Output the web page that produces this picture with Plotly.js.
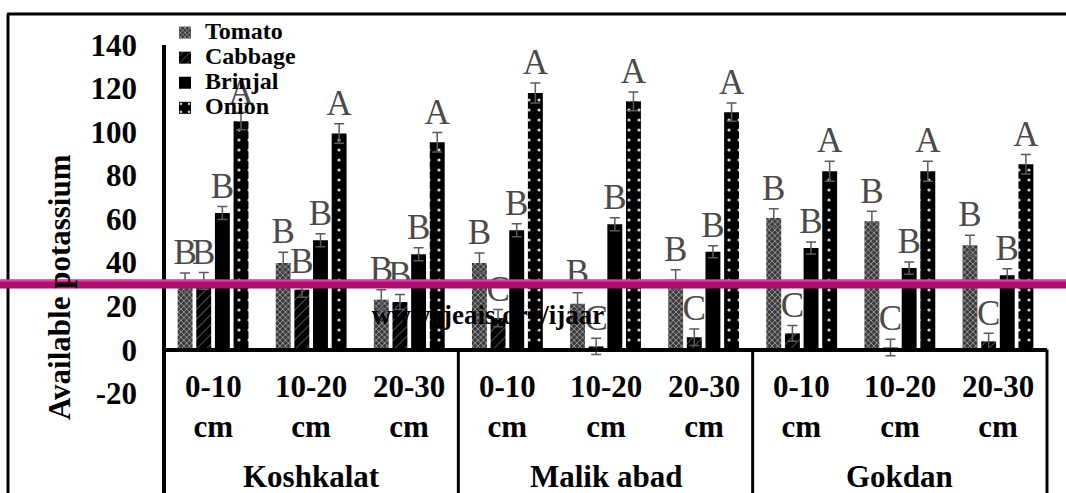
<!DOCTYPE html>
<html>
<head>
<meta charset="utf-8">
<script src="https://cdn.plot.ly/plotly-3.0.1.min.js"></script>
<style>html,body{margin:0;padding:0;background:#fff;}#chart{width:1066px;height:493px;}</style>
</head>
<body>
<div id="chart"></div>
<script>
// ---- data ----
const sites = ['Koshkalat', 'Malik abad', 'Gokdan'];
const depths = ['0-10<br>cm', '10-20<br>cm', '20-30<br>cm'];
const crops = ['Tomato', 'Cabbage', 'Brinjal', 'Onion'];

const tomato     = [30.7, 39.8, 23.0, 39.8, 21.1, 32.1, 60.5, 59.0, 48.0];
const tomatoErr  = [4.5, 5.0, 4.5, 4.6, 5.0, 4.6, 4.3, 4.6, 4.6];
const cabbage    = [31.6, 27.6, 21.9, 14.5, 1.5, 5.7, 7.5, 1.0, 3.8];
const cabbageErr = [3.8, 3.5, 3.5, 4.0, 3.7, 3.8, 3.6, 3.8, 3.7];
const brinjal    = [62.8, 50.3, 43.8, 54.9, 57.6, 45.0, 46.7, 37.5, 34.2];
const brinjalErr = [3.0, 3.0, 3.0, 3.0, 3.0, 2.8, 2.8, 2.8, 3.0];
const onion      = [105.0, 99.3, 95.3, 117.9, 114.1, 109.1, 82.0, 82.0, 85.2];
const onionErr   = [4.0, 4.5, 4.5, 4.6, 4.3, 4.2, 4.6, 4.6, 4.5];

const tomatoSig  = ['B','B','B','B','B','B','B','B','B'];
const cabbageSig = ['B','B','B','C','C','C','C','C','C'];
const brinjalSig = ['B','B','B','B','B','B','B','B','B'];
const onionSig   = ['A','A','A','A','A','A','A','A','A'];

const yTicks = [-20, 0, 20, 40, 60, 80, 100, 120, 140];
const yTickLabels = ['-20', '0', '20', '40', '60', '80', '100', '120', '140'];
const yTitle = 'Available potassium';
const watermark = 'www.ijeais.org/ijaar';

// ---- build ----
const catKeys = [], catDepth = [], catSite = [];
sites.forEach(s => depths.forEach(d => { catKeys.push(s + ' | ' + d); catDepth.push(d); catSite.push(s); }));

const values = [tomato, cabbage, brinjal, onion];
const errs = [tomatoErr, cabbageErr, brinjalErr, onionErr];
const sigs = [tomatoSig, cabbageSig, brinjalSig, onionSig];

const serif = 'Liberation Serif, Times New Roman, serif';
const markers = [
  {color: '#3a3a3a', pattern: {shape: 'x', bgcolor: '#3a3a3a', fgcolor: '#c4c4c4', size: 4, solidity: 0.3}},
  {color: '#000000', pattern: {shape: '/', bgcolor: '#000000', fgcolor: '#8a8a8a', size: 7, solidity: 0.12}},
  {color: '#000000'},
  {color: '#000000', pattern: {shape: '.', bgcolor: '#000000', fgcolor: '#d6d6d6', size: 10, solidity: 0.08}}
];

const traces = [];
crops.forEach((c, i) => {
  traces.push({
    type: 'bar', name: "<span style='font-size:24px'>" + c + "</span>",
    x: catKeys, y: values[i], offsetgroup: c,
    marker: Object.assign({line: {width: 0}}, markers[i]),
    error_y: {type: 'data', array: errs[i], visible: true, color: '#5a5a5a', thickness: 1.5, width: 5},
    hoverinfo: 'y'
  });
});
crops.forEach((c, i) => {
  traces.push({
    type: 'scatter', mode: 'text', showlegend: false, offsetgroup: c,
    x: catKeys, y: values[i].map((v, k) => v + errs[i][k]),
    text: sigs[i], textposition: 'top center', cliponaxis: false,
    textfont: {family: serif, size: 35, color: '#4a4a4a'},
    hoverinfo: 'skip'
  });
});

const W = 1066, H = 493, ml = 164, mr = 19, mt = 15, mb = 0;
const pw = W - ml - mr, ph = H - mt - mb;
const pxPerUnit = 2.179, zeroPx = 349.5;
const yTop = 140 + (45 - mt) / pxPerUnit;
const yBot = -(H - mb - zeroPx) / pxPerUnit;
const px2x = p => (p - ml) / pw;
const px2y = p => (H - mb - p) / ph;

const boldFont = (size) => ({family: serif, size: size, weight: 700, color: '#000'});

const annotations = [{
  text: yTitle, textangle: -90, xref: 'paper', yref: 'paper',
  x: px2x(60), y: px2y(287), xanchor: 'center', yanchor: 'middle', showarrow: false,
  font: boldFont(31)
}];
catKeys.forEach((k, i) => annotations.push({
  text: catDepth[i], xref: 'x', yref: 'paper', x: k, y: px2y(406),
  xanchor: 'center', yanchor: 'middle', showarrow: false, font: boldFont(31)
}));
sites.forEach((s, j) => annotations.push({
  text: s, xref: 'x', yref: 'paper', x: catKeys[j * depths.length + 1], y: px2y(476),
  xanchor: 'center', yanchor: 'middle', showarrow: false, font: boldFont(31), borderpad: 0
}));

const shapes = [
  // watermark, over the bars
  {type: 'rect', xref: 'paper', yref: 'paper', layer: 'above',
   x0: px2x(340), x1: px2x(636), y0: px2y(328), y1: px2y(296),
   line: {width: 0}, fillcolor: 'rgba(0,0,0,0)',
   label: {text: watermark, textposition: 'middle center', font: boldFont(27)}},
  // y axis line, running down the category table
  {type: 'line', xref: 'paper', yref: 'paper', layer: 'above',
   x0: 0, x1: 0, y0: px2y(45), y1: px2y(H + 2), line: {color: '#000', width: 4}},
  // outer frame
  {type: 'line', xref: 'paper', yref: 'paper', layer: 'above',
   x0: px2x(7), x1: px2x(W + 2), y0: px2y(14), y1: px2y(14), line: {color: '#000', width: 3}},
  {type: 'line', xref: 'paper', yref: 'paper', layer: 'above',
   x0: px2x(8), x1: px2x(8), y0: px2y(14), y1: px2y(H + 2), line: {color: '#000', width: 3}},
  // magenta band across the picture
  {type: 'line', xref: 'paper', yref: 'paper', layer: 'above',
   x0: px2x(-2), x1: px2x(W + 2), y0: px2y(284), y1: px2y(284), line: {color: '#ad0f70', width: 9}},
  {type: 'line', xref: 'paper', yref: 'paper', layer: 'above',
   x0: px2x(-2), x1: px2x(W + 2), y0: px2y(280.5), y1: px2y(280.5), line: {color: '#d9489f', width: 2}}
];
// group separators of the category table
[1, 2, 3].forEach(j => shapes.push({
  type: 'line', xref: 'paper', yref: 'paper', layer: 'above',
  x0: j / sites.length, x1: j / sites.length, y0: px2y(zeroPx), y1: px2y(H + 2),
  line: {color: '#000', width: 3}
}));

const layout = {
  width: W, height: H,
  margin: {l: ml, r: mr, t: mt, b: mb, pad: 0},
  paper_bgcolor: '#ffffff', plot_bgcolor: '#ffffff',
  font: {family: serif, color: '#000000'},
  barmode: 'group', bargap: 0.24, bargroupgap: 0.2,
  scattermode: 'group', scattergap: 0.24,
  showlegend: true,
  legend: {
    x: px2x(165), y: 1.0, xanchor: 'left', yanchor: 'top',
    bgcolor: 'rgba(0,0,0,0)', borderwidth: 0, itemwidth: 30,
    font: {family: serif, size: 17, weight: 700, color: '#000'},
    tracegroupgap: 0, traceorder: 'normal'
  },
  xaxis: {
    type: 'category', anchor: 'free', position: px2y(zeroPx),
    showline: true, linecolor: '#000', linewidth: 4,
    ticks: '', showgrid: false, zeroline: false, showticklabels: false
  },
  yaxis: {
    range: [yBot, yTop], tickvals: yTicks, ticktext: yTickLabels, ticks: '',
    showgrid: false, zeroline: false, showline: false,
    tickfont: boldFont(31),
    ticklabelstandoff: 26
  },
  annotations: annotations,
  shapes: shapes
};

Plotly.newPlot('chart', traces, layout, {displayModeBar: false, staticPlot: true});
</script>
</body>
</html>
